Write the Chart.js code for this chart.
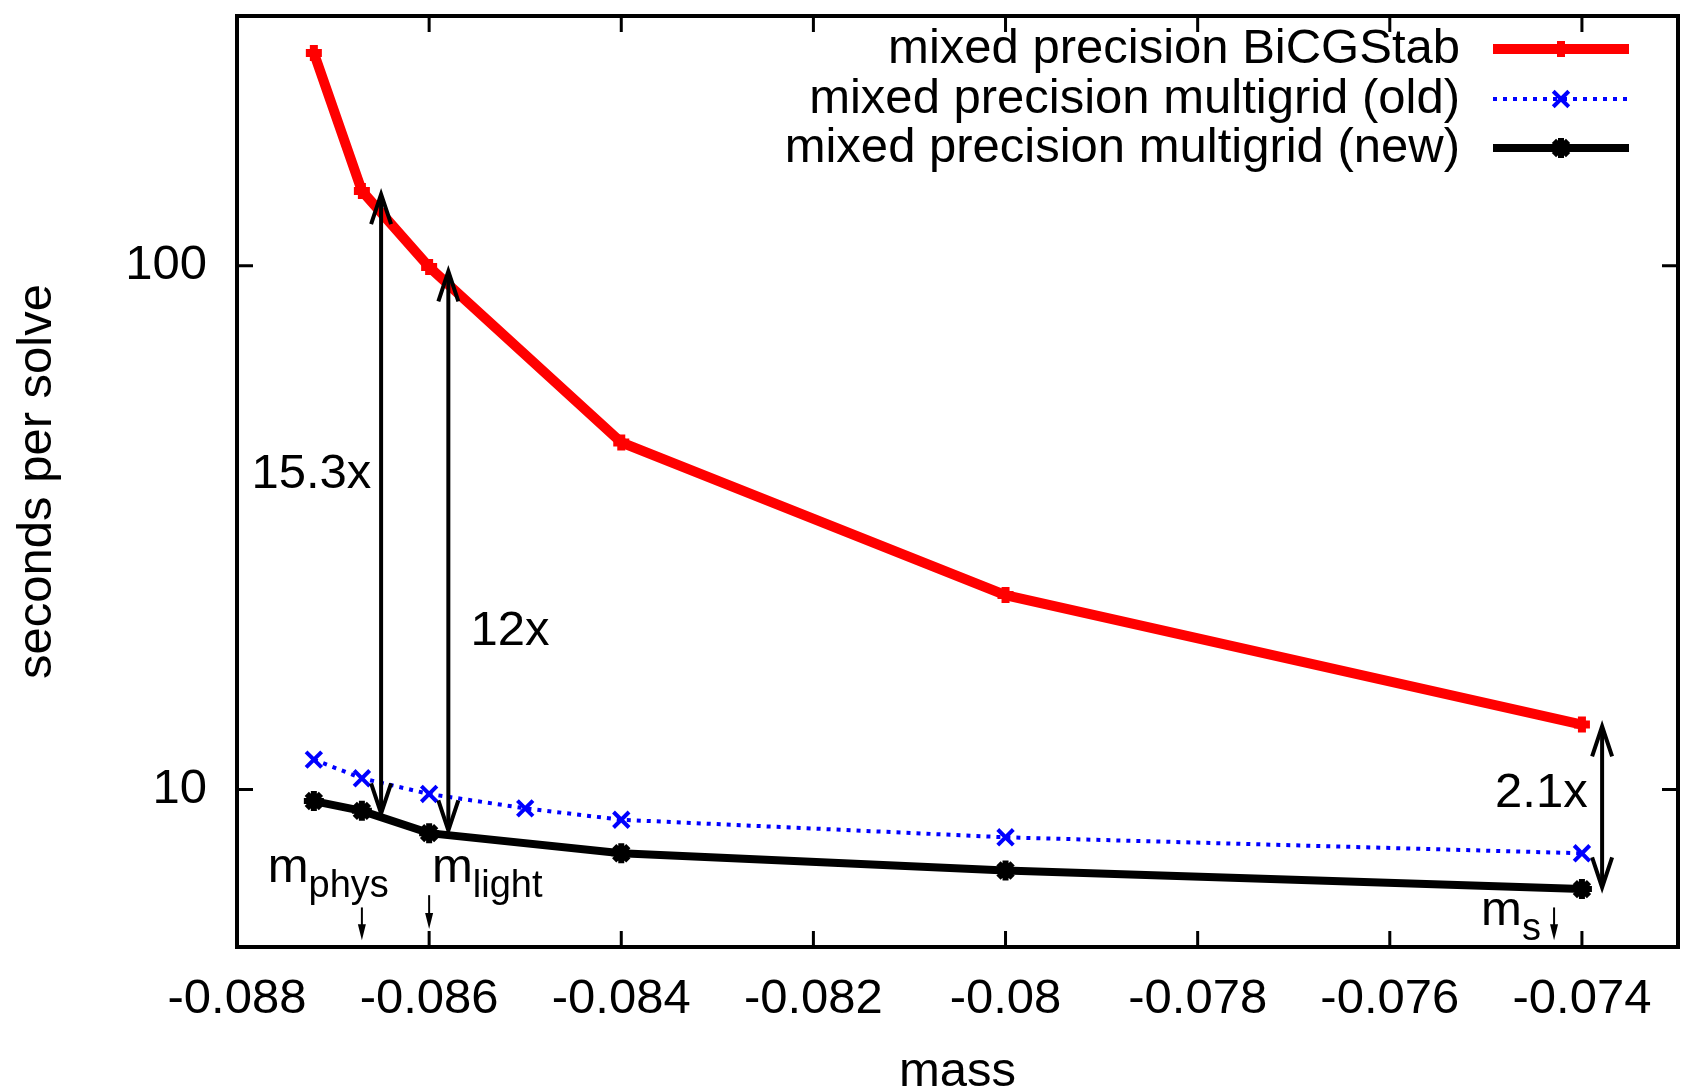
<!DOCTYPE html>
<html>
<head>
<meta charset="utf-8">
<script src="https://cdn.jsdelivr.net/npm/chart.js@4.4.1/dist/chart.umd.min.js"></script>
<style>
  html, body { margin: 0; padding: 0; background: #fff; }
</style>
</head>
<body>
<canvas id="chart" width="1694" height="1092"></canvas>
<script>
// series
const seriesNames = ["mixed precision BiCGStab", "mixed precision multigrid (old)", "mixed precision multigrid (new)"];
const massBicg = [-0.0872, -0.0867, -0.086, -0.084, -0.08, -0.074];
const timeBicg = [255, 139, 99.5, 46, 23.5, 13.3];
const massOld = [-0.0872, -0.0867, -0.086, -0.085, -0.084, -0.08, -0.074];
const timeOld = [11.4, 10.5, 9.8, 9.2, 8.75, 8.1, 7.55];
const massNew = [-0.0872, -0.0867, -0.086, -0.084, -0.08, -0.074];
const timeNew = [9.5, 9.1, 8.25, 7.55, 7.0, 6.45];

// axes
const xTicks = [-0.088, -0.086, -0.084, -0.082, -0.08, -0.078, -0.076, -0.074];
const yTicks = [5, 6, 7, 8, 9, 10, 20, 30, 40, 50, 60, 70, 80, 90, 100, 200, 300];
const yLabelled = [10, 100];

// speedup arrows: [mass, from, to] and labels: [text, mass, time, align]
const speedArrows = [[-0.0865, 137, 9.0], [-0.0858, 97.6, 8.35], [-0.07379, 13.2, 6.5]];
const speedLabels = [["15.3x", -0.08785, 40, "left"], ["12x", -0.08557, 20, "left"], ["2.1x", -0.07394, 9.8, "right"]];
// mass markers: [text, subscript, mass, time] and small arrows [mass, from, to]
const massMarks = [["m", "phys", -0.08768, 6.64], ["m", "light", -0.08597, 6.64], ["m", "s", -0.07505, 5.5]];
const massArrows = [[-0.0867, 5.95, 5.15], [-0.086, 6.28, 5.41], [-0.07429, 5.95, 5.15]];

const FONT = "'Liberation Sans', Arial, sans-serif";
const FS = 49;

const toPts = (xs, ys) => xs.map((m, i) => ({ x: m, y: ys[i] }));

const styles = [
  { color: "#ff0000", width: 10, dash: [], point: "cross", r: 8, pw: 8 },
  { color: "#0000ff", width: 4, dash: [4, 6], point: "crossRot", r: 11, pw: 4 },
  { color: "#000000", width: 8, dash: [], point: "star", r: 10, pw: 6 },
];

const mark = (ctx, style, x, y, r) => {
  ctx.beginPath();
  if (style === "cross" || style === "star") {
    ctx.moveTo(x - r, y); ctx.lineTo(x + r, y);
    ctx.moveTo(x, y - r); ctx.lineTo(x, y + r);
  }
  if (style === "crossRot" || style === "star") {
    const d = r * Math.SQRT1_2;
    ctx.moveTo(x - d, y - d); ctx.lineTo(x + d, y + d);
    ctx.moveTo(x - d, y + d); ctx.lineTo(x + d, y - d);
  }
  ctx.stroke();
};

const vHead = (ctx, x, tip, dir, hw, hl) => {
  ctx.beginPath();
  ctx.moveTo(x - hw, tip + dir * hl);
  ctx.lineTo(x, tip);
  ctx.lineTo(x + hw, tip + dir * hl);
  ctx.stroke();
};

const gnuplotLook = {
  id: "gnuplotLook",
  afterDatasetsDraw(chart) {
    const { ctx, chartArea: a, scales } = chart;
    const sx = scales.x, sy = scales.y;
    ctx.save();
    ctx.strokeStyle = "#000";
    ctx.fillStyle = "#000";
    ctx.lineCap = "butt";

    // big double arrows
    ctx.lineWidth = 4;
    speedArrows.forEach(([m, y0, y1]) => {
      const px = sx.getPixelForValue(m);
      const top = sy.getPixelForValue(y0), bot = sy.getPixelForValue(y1);
      ctx.beginPath(); ctx.moveTo(px, top + 2); ctx.lineTo(px, bot - 2); ctx.stroke();
      vHead(ctx, px, top, 1, 10, 30);
      vHead(ctx, px, bot, -1, 10, 30);
    });

    // speedup labels
    ctx.font = FS + "px " + FONT;
    ctx.textBaseline = "middle";
    speedLabels.forEach(([t, m, v, al]) => {
      ctx.textAlign = al;
      ctx.fillText(t, sx.getPixelForValue(m), sy.getPixelForValue(v));
    });

    // mass markers with subscripts
    ctx.textBaseline = "alphabetic";
    ctx.textAlign = "left";
    massMarks.forEach(([t, sub, m, v]) => {
      const px = sx.getPixelForValue(m), py = sy.getPixelForValue(v);
      ctx.font = FS + "px " + FONT;
      ctx.fillText(t, px, py);
      const w = ctx.measureText(t).width;
      ctx.font = "38px " + FONT;
      ctx.fillText(sub, px + w, py + 15);
    });

    // small arrows
    ctx.lineWidth = 2;
    massArrows.forEach(([m, y0, y1]) => {
      const px = sx.getPixelForValue(m);
      const top = sy.getPixelForValue(y0), bot = sy.getPixelForValue(y1);
      ctx.beginPath(); ctx.moveTo(px, top); ctx.lineTo(px, bot - 10); ctx.stroke();
      ctx.beginPath();
      ctx.moveTo(px - 4, bot - 16); ctx.lineTo(px, bot); ctx.lineTo(px + 4, bot - 16);
      ctx.closePath(); ctx.fill();
    });

    // tick marks on all four sides, pointing in
    ctx.lineWidth = 3;
    sx.ticks.forEach((t) => {
      const px = sx.getPixelForValue(t.value);
      ctx.beginPath();
      ctx.moveTo(px, a.bottom); ctx.lineTo(px, a.bottom - 16);
      ctx.moveTo(px, a.top); ctx.lineTo(px, a.top + 16);
      ctx.stroke();
    });
    sy.ticks.forEach((t) => {
      const py = sy.getPixelForValue(t.value);
      const len = yLabelled.includes(t.value) ? 16 : 8;
      ctx.beginPath();
      ctx.moveTo(a.left, py); ctx.lineTo(a.left + len, py);
      ctx.moveTo(a.right, py); ctx.lineTo(a.right - len, py);
      ctx.stroke();
    });

    // frame
    ctx.lineWidth = 4;
    ctx.strokeRect(a.left, a.top, a.right - a.left, a.bottom - a.top);

    // key, top right inside the frame
    const textRight = 1460, lineL = 1493, lineR = 1629, rowY = [49, 99, 148];
    chart.data.datasets.forEach((ds, i) => {
      const st = styles[i];
      const y = rowY[i];
      ctx.font = FS + "px " + FONT;
      ctx.textAlign = "right";
      ctx.textBaseline = "middle";
      ctx.fillStyle = "#000";
      ctx.fillText(ds.label, textRight, y);
      ctx.strokeStyle = st.color;
      ctx.lineWidth = st.width;
      ctx.setLineDash(st.dash);
      ctx.beginPath(); ctx.moveTo(lineL, y); ctx.lineTo(lineR, y); ctx.stroke();
      ctx.setLineDash([]);
      ctx.lineWidth = st.pw;
      mark(ctx, st.point, (lineL + lineR) / 2, y, st.r);
    });
    ctx.restore();
  },
};

const mkSet = (label, pts, st) => ({
  label: label,
  data: pts,
  borderColor: st.color,
  backgroundColor: st.color,
  borderWidth: st.width,
  borderDash: st.dash,
  borderCapStyle: "butt",
  pointStyle: st.point,
  pointRadius: st.r,
  pointBorderWidth: st.pw,
  pointBorderColor: st.color,
  pointBackgroundColor: st.color,
  tension: 0,
  fill: false,
});

new Chart(document.getElementById("chart"), {
  type: "line",
  data: {
    datasets: [
      mkSet(seriesNames[0], toPts(massBicg, timeBicg), styles[0]),
      mkSet(seriesNames[1], toPts(massOld, timeOld), styles[1]),
      mkSet(seriesNames[2], toPts(massNew, timeNew), styles[2]),
    ],
  },
  options: {
    responsive: false,
    animation: false,
    devicePixelRatio: 1,
    layout: { padding: { left: 0, top: 9, right: 8, bottom: 0 } },
    plugins: { legend: { display: false }, tooltip: { enabled: false } },
    scales: {
      x: {
        type: "linear",
        min: -0.088,
        max: -0.073,
        grid: { display: false },
        border: { display: false },
        afterBuildTicks: (s) => { s.ticks = xTicks.map((v) => ({ value: v })); },
        afterFit: (s) => { s.height = 145; s.paddingLeft = 0; s.paddingRight = 0; },
        ticks: {
          autoSkip: false,
          maxRotation: 0,
          padding: 15,
          color: "#000",
          font: { family: FONT, size: FS },
          callback: (v) => String(+v.toFixed(3)),
        },
        title: {
          display: true,
          text: "mass",
          color: "#000",
          font: { family: FONT, size: FS, lineHeight: 0.8 },
          padding: { top: 0, bottom: 0 },
        },
      },
      y: {
        type: "logarithmic",
        min: 5,
        max: 300,
        grid: { display: false },
        border: { display: false },
        afterBuildTicks: (s) => { s.ticks = yTicks.map((v) => ({ value: v })); },
        afterFit: (s) => { s.width = 237; s.paddingTop = 0; s.paddingBottom = 0; },
        ticks: {
          autoSkip: false,
          padding: 22,
          color: "#000",
          font: { family: FONT, size: FS },
          callback: (v) => (yLabelled.includes(v) ? String(v) : null),
        },
        title: {
          display: true,
          text: "seconds per solve",
          color: "#000",
          font: { family: FONT, size: FS },
          padding: { top: 8, bottom: 0 },
        },
      },
    },
  },
  plugins: [gnuplotLook],
});
</script>
</body>
</html>
